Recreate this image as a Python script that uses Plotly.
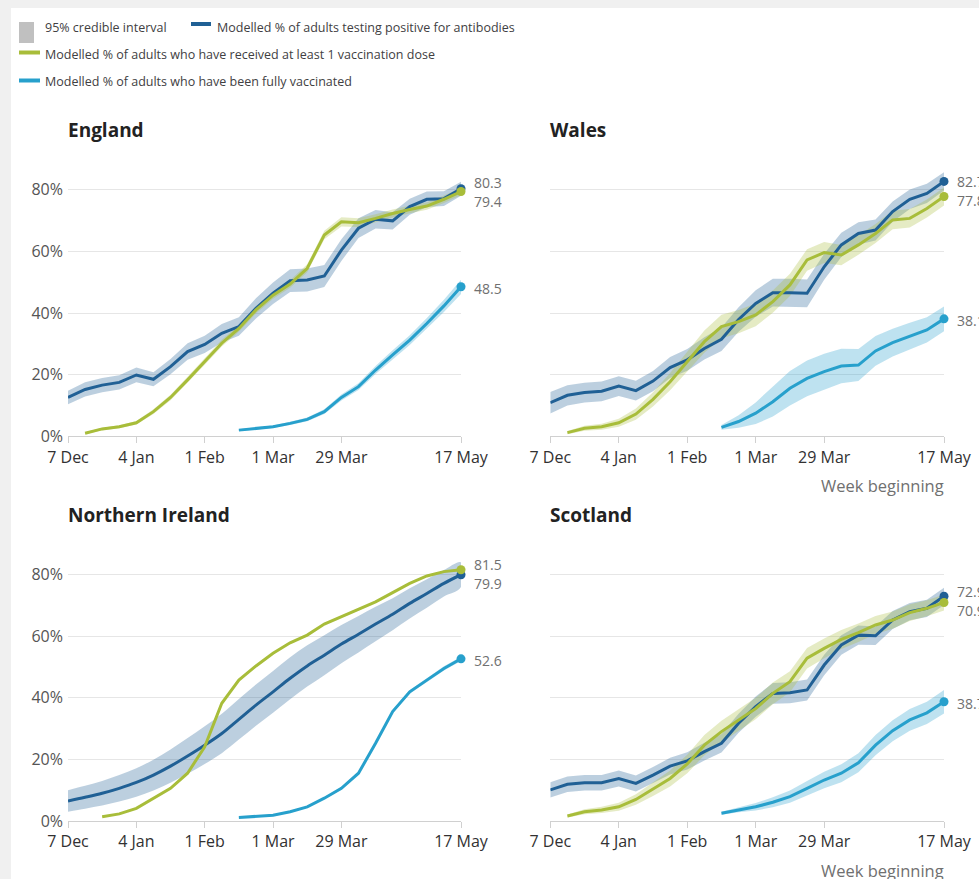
import pandas as pd
import plotly.graph_objects as go

# Weekly time axis (week beginning), 7 Dec 2020 to 17 May 2021
weeks = [d.strftime("%Y-%m-%d") for d in pd.date_range("2020-12-07", "2021-05-17", freq="7D")]
tick_dates = ["2020-12-07", "2021-01-04", "2021-02-01", "2021-03-01", "2021-03-29", "2021-05-17"]
tick_labels = ["7 Dec", "4 Jan", "1 Feb", "1 Mar", "29 Mar", "17 May"]
y_ticks = [0, 20, 40, 60, 80]
y_tick_labels = ["0%", "20%", "40%", "60%", "80%"]

# England
england_antibodies = [12.6, 15.2, 16.6, 17.5, 19.9, 18.5, 22.6, 27.5, 29.8, 33.4, 35.6, 41.5,
                      46.4, 50.5, 50.7, 52.0, 60.4, 67.5, 70.4, 69.9, 74.5, 76.9, 77.1, 80.3]
england_antibodies_ci = [2.2, 2.3, 2.3, 2.3, 2.4, 2.3, 2.5, 2.7, 2.8, 3.0, 3.0, 3.3,
                         3.5, 3.7, 3.7, 3.6, 3.5, 3.2, 3.0, 2.8, 2.6, 2.5, 2.4, 2.3]
england_first_dose = [1.0, 2.4, 3.1, 4.4, 8.0, 12.6, 18.3, 24.2, 30.2, 35.0, 41.0, 45.8,
                      49.4, 54.5, 65.3, 69.6, 69.3, 70.7, 72.3, 73.6, 74.7, 76.9, 79.4]
england_first_dose_ci = [0.3, 0.4, 0.5, 0.6, 0.8, 0.9, 1.0, 1.0, 1.1, 1.1, 1.2, 1.2,
                         1.2, 1.3, 1.4, 1.5, 1.4, 1.3, 1.3, 1.2, 1.2, 1.2, 1.2]
england_fully = [2.0, 2.5, 3.1, 4.2, 5.5, 8.0, 12.6, 16.1, 21.5, 26.4, 31.2, 36.6, 42.3, 48.5]
england_fully_ci = [0.3, 0.3, 0.4, 0.5, 0.6, 0.8, 1.0, 1.1, 1.3, 1.5, 1.6, 1.8, 2.0, 2.3]

# Wales
wales_antibodies = [10.9, 13.3, 14.2, 14.6, 16.3, 14.8, 17.9, 22.3, 24.8, 28.5, 31.5, 37.9,
                    43.1, 46.6, 46.6, 46.4, 55.0, 62.1, 65.8, 66.9, 72.9, 76.9, 78.8, 82.7]
wales_antibodies_ci = [3.5, 3.3, 3.2, 3.2, 3.2, 3.2, 3.3, 3.4, 3.5, 3.6, 3.8, 4.0,
                       4.3, 4.5, 4.5, 4.5, 4.2, 3.9, 3.6, 3.4, 3.3, 3.2, 3.1, 3.0]
wales_first_dose = [1.2, 2.6, 3.1, 4.4, 7.2, 12.0, 17.7, 24.2, 30.7, 35.6, 37.2, 39.4,
                    43.7, 49.1, 57.2, 59.6, 58.8, 62.1, 65.8, 70.2, 70.7, 73.9, 77.8]
wales_first_dose_ci = [0.5, 0.8, 1.0, 1.3, 1.8, 2.3, 2.8, 3.3, 3.6, 3.8, 3.8, 3.7,
                       3.6, 3.6, 3.5, 3.4, 3.3, 3.2, 3.1, 3.0, 3.0, 2.9, 2.9]
wales_fully = [2.9, 4.8, 7.5, 11.2, 15.6, 18.8, 21.0, 22.8, 23.1, 27.7, 30.4, 32.5, 34.5, 38.1]
wales_fully_ci = [0.8, 2.0, 3.5, 4.8, 5.6, 5.8, 5.8, 5.6, 5.2, 4.8, 4.5, 4.3, 4.1, 4.0]

# Northern Ireland
ni_antibodies = [6.5, 7.7, 9.0, 10.6, 12.5, 14.9, 17.8, 21.1, 24.6, 28.4, 33.0, 37.6,
                 41.9, 46.3, 50.3, 53.8, 57.4, 60.6, 63.9, 67.1, 70.6, 73.8, 77.1, 79.9]
ni_antibodies_ci = [3.5, 3.7, 4.0, 4.3, 4.6, 5.0, 5.4, 5.8, 6.1, 6.4, 6.6, 6.7,
                    6.8, 6.8, 6.7, 6.5, 6.2, 5.9, 5.6, 5.2, 4.9, 4.6, 4.3, 4.0]
ni_first_dose = [1.4, 2.3, 4.1, 7.4, 10.6, 15.5, 24.1, 38.2, 45.7, 50.3, 54.4, 57.8,
                 60.3, 63.9, 66.3, 68.6, 71.1, 74.1, 77.1, 79.5, 80.9, 81.5]
ni_first_dose_ci = [0.2, 0.2, 0.2, 0.2, 0.3, 0.3, 0.3, 0.3, 0.3, 0.3, 0.3, 0.3,
                    0.3, 0.3, 0.3, 0.3, 0.3, 0.3, 0.3, 0.3, 0.3, 0.3]
ni_fully = [1.1, 1.4, 1.9, 3.0, 4.6, 7.4, 10.6, 15.5, 25.2, 35.5, 41.9, 45.7, 49.5, 52.6]
ni_fully_ci = [0.2, 0.2, 0.2, 0.3, 0.3, 0.3, 0.4, 0.4, 0.5, 0.5, 0.6, 0.6, 0.7, 0.7]

# Scotland
scotland_antibodies = [10.1, 11.9, 12.4, 12.4, 13.8, 12.2, 14.9, 17.8, 19.5, 22.5, 25.2, 31.7,
                       37.1, 41.4, 41.6, 42.5, 50.6, 57.1, 60.3, 60.1, 65.2, 67.9, 69.0, 72.9]
scotland_antibodies_ci = [2.5, 2.5, 2.5, 2.5, 2.6, 2.6, 2.6, 2.7, 2.8, 2.9, 3.0, 3.1,
                          3.3, 3.4, 3.4, 3.4, 3.3, 3.2, 3.1, 3.0, 2.9, 2.8, 2.8, 2.8]
scotland_first_dose = [1.6, 3.0, 3.6, 4.6, 7.0, 10.3, 13.8, 18.5, 24.6, 29.0, 32.8, 36.5,
                       41.4, 45.2, 52.8, 56.0, 58.9, 61.1, 63.6, 65.2, 67.6, 69.0, 70.9]
scotland_first_dose_ci = [0.5, 0.8, 1.0, 1.3, 1.7, 2.2, 2.6, 3.0, 3.3, 3.5, 3.5, 3.5,
                          3.5, 3.4, 3.3, 3.2, 3.1, 3.0, 2.9, 2.8, 2.7, 2.6, 2.6]
scotland_fully = [2.5, 3.6, 4.6, 6.1, 7.9, 10.6, 13.3, 15.5, 18.9, 24.6, 29.3, 32.8, 35.1, 38.7]
scotland_fully_ci = [0.5, 0.8, 1.2, 1.6, 2.0, 2.4, 2.7, 2.9, 3.1, 3.3, 3.4, 3.5, 3.6, 3.8]

DARK_BLUE = "#206095"
GREEN = "#a8bd3a"
LIGHT_BLUE = "#27a0cc"
BAND = {DARK_BLUE: "rgba(32,96,149,0.30)", GREEN: "rgba(168,189,58,0.30)",
        LIGHT_BLUE: "rgba(39,160,204,0.30)"}

W, H = 979, 879
FONT = "Open Sans, sans-serif"
Y_MAX = 88


def px_x(v):
    return v / W


def px_y(v):
    return 1 - v / H


panels = [
    dict(name="England", ax="", col=0, row=0, smooth=False,
         series=[(england_antibodies, england_antibodies_ci, DARK_BLUE),
                 (england_first_dose, england_first_dose_ci, GREEN),
                 (england_fully, england_fully_ci, LIGHT_BLUE)]),
    dict(name="Wales", ax="2", col=1, row=0, smooth=False,
         series=[(wales_antibodies, wales_antibodies_ci, DARK_BLUE),
                 (wales_first_dose, wales_first_dose_ci, GREEN),
                 (wales_fully, wales_fully_ci, LIGHT_BLUE)]),
    dict(name="Northern Ireland", ax="3", col=0, row=1, smooth=True,
         series=[(ni_antibodies, ni_antibodies_ci, DARK_BLUE),
                 (ni_first_dose, ni_first_dose_ci, GREEN),
                 (ni_fully, ni_fully_ci, LIGHT_BLUE)]),
    dict(name="Scotland", ax="4", col=1, row=1, smooth=False,
         series=[(scotland_antibodies, scotland_antibodies_ci, DARK_BLUE),
                 (scotland_first_dose, scotland_first_dose_ci, GREEN),
                 (scotland_fully, scotland_fully_ci, LIGHT_BLUE)]),
]

# pixel geometry of each plotting area
col_x = [(68, 461), (550.3, 944)]
row_zero = [436.3, 821.0]      # pixel row of the 0% baseline
px_per_pct = 3.0825

fig = go.Figure()
annotations = []
shapes = []

for p in panels:
    xa = "x" + p["ax"]
    ya = "y" + p["ax"]
    x0, x1 = col_x[p["col"]]
    y_bottom = row_zero[p["row"]]
    y_top = y_bottom - Y_MAX * px_per_pct

    fig.update_layout({
        "xaxis" + p["ax"]: dict(
            domain=[px_x(x0), px_x(x1)], anchor=ya, type="date", automargin=False,
            range=[weeks[0], weeks[-1]], tickvals=tick_dates, ticktext=tick_labels,
            ticks="outside", ticklen=6, tickwidth=1, tickcolor="#d0d0d0",
            showline=True, linecolor="#d0d0d0", linewidth=1, showgrid=False,
            zeroline=False, tickfont=dict(family=FONT, size=16, color="#323132"),
            fixedrange=True),
        "yaxis" + p["ax"]: dict(
            domain=[px_y(y_bottom), px_y(y_top)], anchor=xa, range=[0, Y_MAX],
            automargin=False,
            tickvals=y_ticks, ticktext=y_tick_labels, showticklabels=(p["col"] == 0),
            showgrid=True, gridcolor="#e6e6e6", gridwidth=1, zeroline=False,
            showline=False, ticks="", ticklabelstandoff=4,
            tickfont=dict(family=FONT, size=16, color="#555555"), fixedrange=True),
    })

    for vals, ci, color in p["series"]:
        xs = weeks[-len(vals):]
        upper = [v + c for v, c in zip(vals, ci)]
        lower = [v - c for v, c in zip(vals, ci)]
        shape = "spline" if (p["smooth"] and color == DARK_BLUE) else "linear"
        fig.add_trace(go.Scatter(
            x=xs + xs[::-1], y=upper + lower[::-1], xaxis=xa, yaxis=ya,
            mode="lines", fill="toself", fillcolor=BAND[color],
            line=dict(width=0, shape=shape), hoverinfo="skip", showlegend=False))
    for vals, ci, color in p["series"]:
        xs = weeks[-len(vals):]
        shape = "spline" if (p["smooth"] and color == DARK_BLUE) else "linear"
        fig.add_trace(go.Scatter(
            x=xs, y=vals, xaxis=xa, yaxis=ya, mode="lines",
            line=dict(color=color, width=3, shape=shape), showlegend=False))
        fig.add_trace(go.Scatter(
            x=[xs[-1]], y=[vals[-1]], xaxis=xa, yaxis=ya, mode="markers",
            marker=dict(color=color, size=9), showlegend=False, cliponaxis=False))

    # end-of-line value labels, pushed apart where they would overlap
    ends = sorted([s[0][-1] for s in p["series"]], reverse=True)
    pos = list(ends)
    min_gap = 6.0
    for i in range(1, len(pos)):
        if pos[i - 1] - pos[i] < min_gap:
            mid = (ends[i - 1] + ends[i]) / 2
            pos[i - 1] = mid + min_gap / 2
            pos[i] = mid - min_gap / 2
    for v, yp in zip(ends, pos):
        annotations.append(dict(
            x=weeks[-1], y=yp - 0.6, xref=xa, yref=ya, text=f"{v:.1f}",
            showarrow=False, xanchor="left", yanchor="middle", xshift=11,
            font=dict(family=FONT, size=14, color="#707070")))

    # panel title
    annotations.append(dict(
        x=px_x(x0 - 2), y=px_y(y_bottom - 306.5), xref="paper", yref="paper",
        text=f"<b>{p['name']}</b>", showarrow=False, xanchor="left", yanchor="middle",
        font=dict(family=FONT, size=19, color="#222222")))

    if p["col"] == 1:
        annotations.append(dict(
            x=px_x(x1 + 1.5), y=px_y(y_bottom + 49), xref="paper", yref="paper",
            text="Week beginning", showarrow=False, xanchor="right", yanchor="middle",
            font=dict(family=FONT, size=16.5, color="#707070")))

# page frame strips
shapes.append(dict(type="rect", xref="paper", yref="paper", x0=0, x1=px_x(11), y0=0, y1=1,
                   fillcolor="#f0f0f0", line=dict(width=0), layer="below"))
shapes.append(dict(type="rect", xref="paper", yref="paper", x0=0, x1=1, y0=px_y(8), y1=1,
                   fillcolor="#f0f0f0", line=dict(width=0), layer="below"))

# legend
LEG_FONT = dict(family=FONT, size=12.5, color="#414042")
shapes.append(dict(type="rect", xref="paper", yref="paper", x0=px_x(19), x1=px_x(34),
                   y0=px_y(43), y1=px_y(22), fillcolor="#c0c0c0", line=dict(width=0)))
legend_lines = [(191, 211, 24, DARK_BLUE), (19, 40, 52.5, GREEN), (19, 40, 80.5, LIGHT_BLUE)]
for lx0, lx1, ly, c in legend_lines:
    shapes.append(dict(type="line", xref="paper", yref="paper", x0=px_x(lx0), x1=px_x(lx1),
                       y0=px_y(ly), y1=px_y(ly), line=dict(color=c, width=4)))
legend_texts = [(43, 27, "95% credible interval"),
                (215, 27, "Modelled % of adults testing positive for antibodies"),
                (43, 55, "Modelled % of adults who have received at least 1 vaccination dose"),
                (43, 82, "Modelled % of adults who have been fully vaccinated")]
for tx, ty, t in legend_texts:
    annotations.append(dict(x=px_x(tx), y=px_y(ty), xref="paper", yref="paper", text=t,
                            showarrow=False, xanchor="left", yanchor="middle", font=LEG_FONT))

fig.update_layout(
    width=W, height=H, margin=dict(l=0, r=0, t=0, b=0, autoexpand=False),
    paper_bgcolor="white", plot_bgcolor="white",
    showlegend=False, annotations=annotations, shapes=shapes,
    font=dict(family=FONT),
)

fig.write_html("out.html")
